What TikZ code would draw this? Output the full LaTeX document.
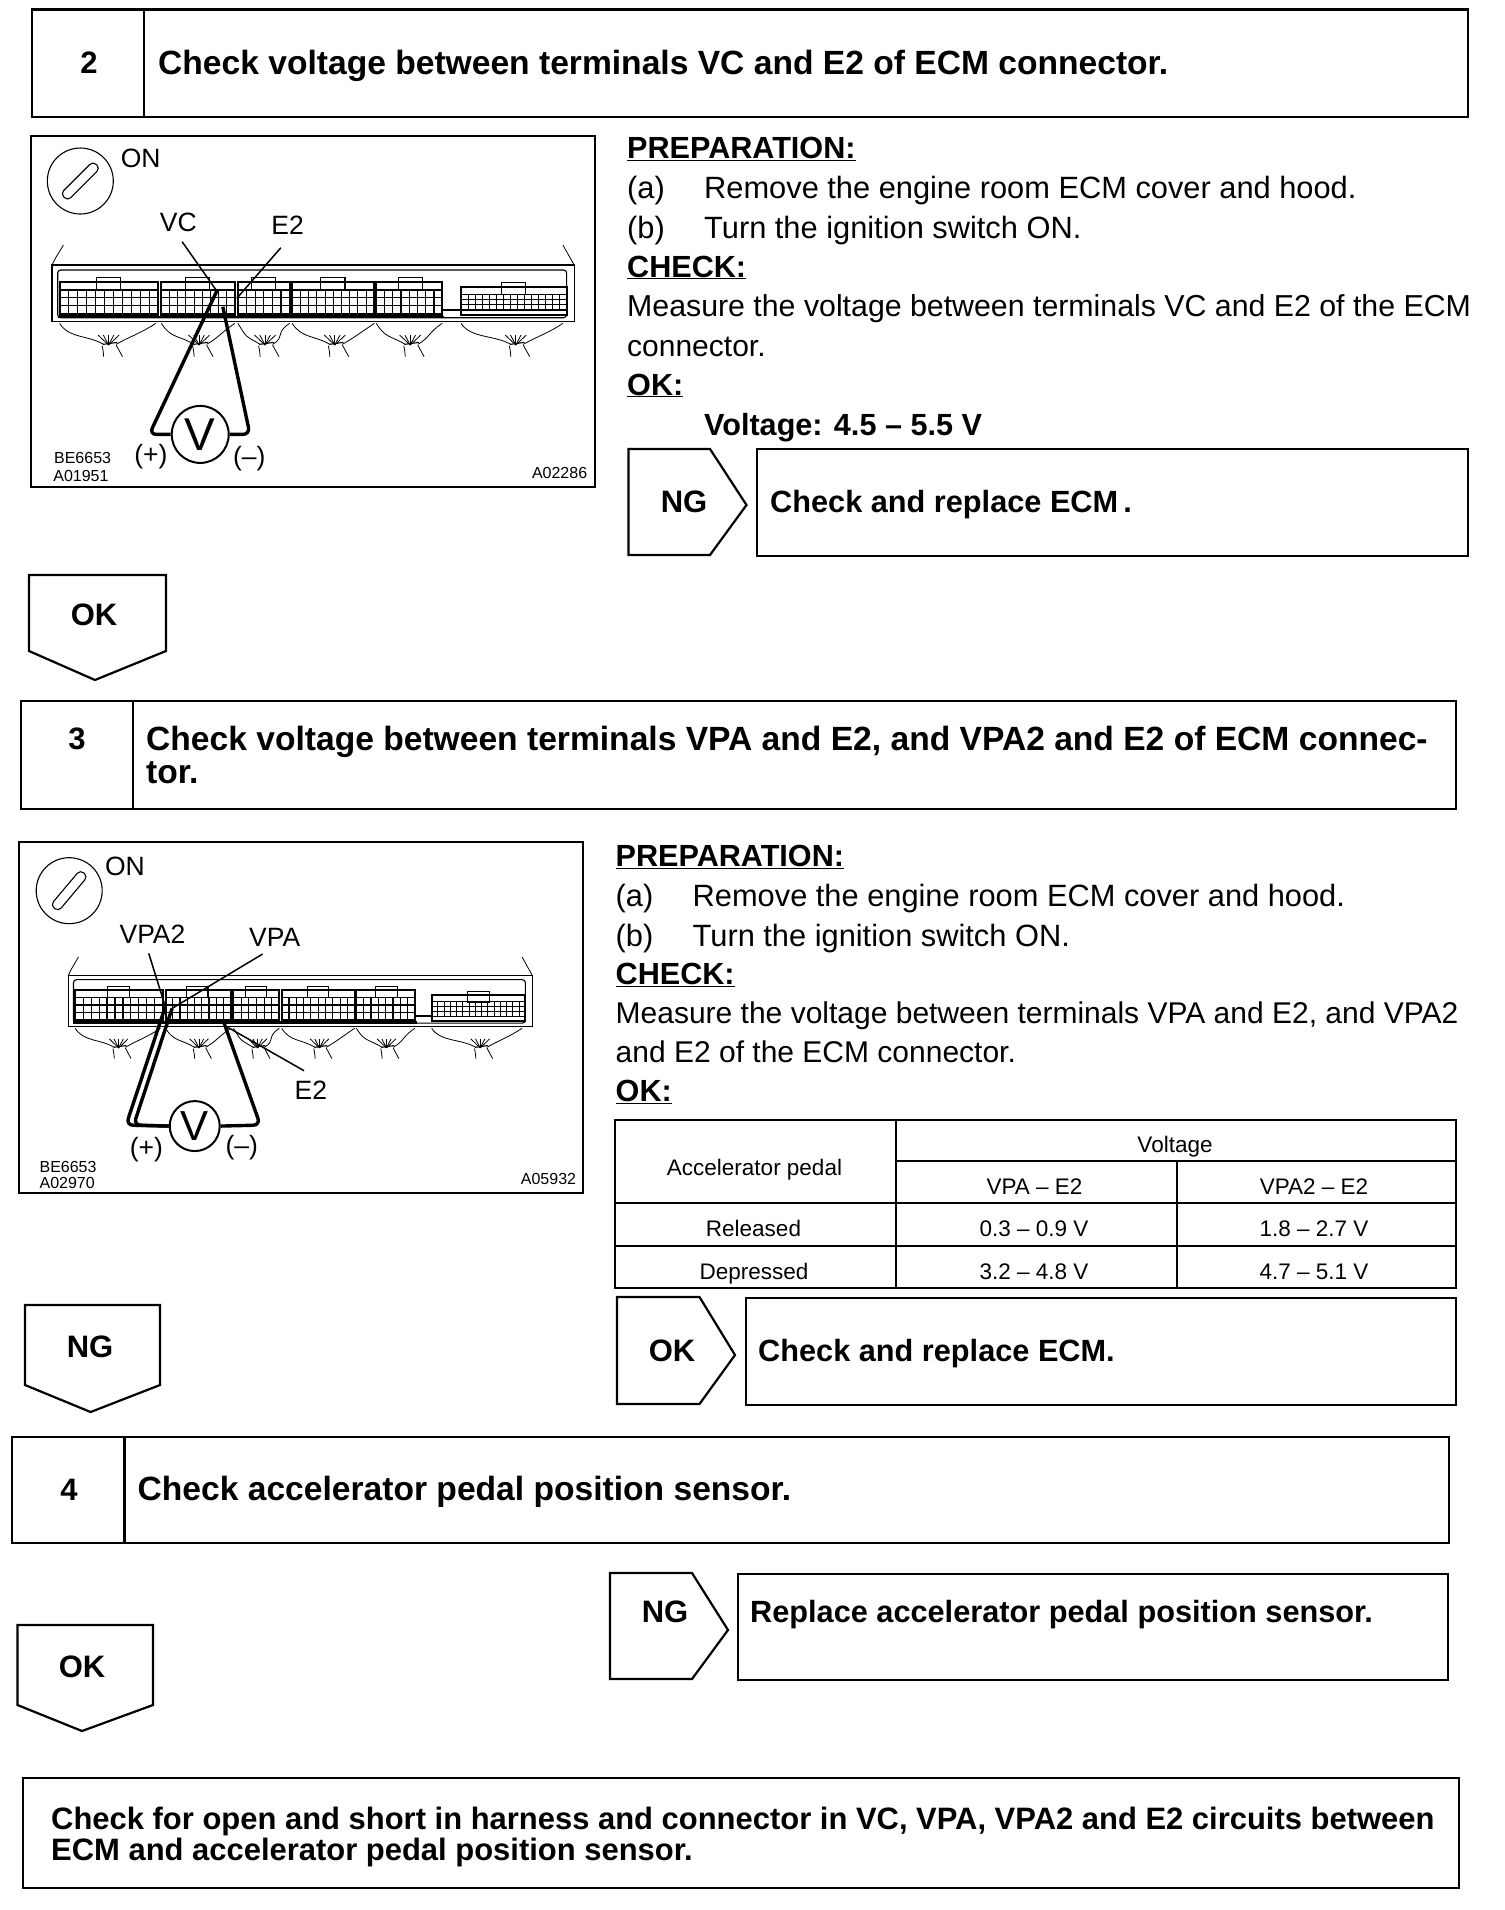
\documentclass[tikz,border=0pt]{standalone}
\usepackage{fontspec}
\setmainfont{Liberation Sans}
\tikzset{
  boxn/.style={draw=black,line width=2.4pt,anchor=north west,inner sep=0pt,fill=none},
  tagshape/.style={draw=black,line width=2.2pt,line join=miter},
  divider/.style={draw=black,line width=2.2pt},
  frameb/.style={draw=black,line width=2.2pt},
  cell/.style={draw=black,line width=1.1pt},
  hair/.style={draw=black,line width=.8pt},
  heavy/.style={draw=black,line width=2pt},
  probe/.style={draw=black,line width=3.4pt,rounded corners=7pt},
  leader/.style={draw=black,line width=1.5pt},
  head/.style={font=\fontsize{33.6}{36}\selectfont\bfseries,anchor=base west,inner sep=0pt},
  big/.style={font=\fontsize{30.7}{34}\selectfont\bfseries,anchor=base west,inner sep=0pt},
  bigf/.style={font=\fontsize{30.95}{34}\selectfont\bfseries,anchor=base west,inner sep=0pt},
  bigc/.style={font=\fontsize{31}{34}\selectfont\bfseries,anchor=base,inner sep=0pt},
  body/.style={font=\fontsize{30}{33}\selectfont,anchor=base west,inner sep=0pt},
  bodym/.style={font=\fontsize{30.3}{33}\selectfont,anchor=base west,inner sep=0pt},
  bodyw/.style={font=\fontsize{30.8}{33}\selectfont,anchor=base west,inner sep=0pt},
  sub/.style={font=\fontsize{30.6}{33}\selectfont\bfseries,anchor=base west,inner sep=0pt},
  tabt/.style={font=\fontsize{22.5}{25}\selectfont,anchor=base,inner sep=0pt},
  figl/.style={font=\fontsize{26.5}{28}\selectfont,anchor=center,inner sep=0pt},
  figc/.style={font=\fontsize{16}{18}\selectfont,anchor=base west,inner sep=0pt},
  figr/.style={font=\fontsize{16}{18}\selectfont,anchor=base east,inner sep=0pt},
  meter/.style={draw=black,line width=2pt,circle,inner sep=0pt,fill=white},
  keyc/.style={draw=black,line width=1.1pt,circle,inner sep=0pt},
  keys/.style={draw=black,line width=1.1pt,rounded corners=4.5pt,inner sep=0pt,minimum width=46pt,minimum height=10pt},
}
\newcommand{\ecmblock}[7]{%
  \draw[heavy] (#1,#3) -- (#1,-20) -- (#2,-20) -- (#2,#3) -- cycle;
  \draw[cell] (#1,#4) rectangle (#2,#5);
  \pgfmathsetmacro{\rowa}{#4+(#5-#4)/3}
  \pgfmathsetmacro{\rowb}{#4+2*(#5-#4)/3}
  \draw[cell] (#1,\rowa) -- (#2,\rowa) (#1,\rowb) -- (#2,\rowb);
  \foreach \k in {1,...,#6}{%
    \pgfmathsetmacro{\xx}{#1+(#2-#1)*\k/(#6+1)}
    \draw[cell] (\xx,#4) -- (\xx,#5);
  }
  \draw[cell] (#7-32,#3) -- (#7-32,#3-12) -- (#7+32,#3-12) -- (#7+32,#3+24) -- (#7-32,#3+24) -- cycle;
}
\newcommand{\ecmwire}[3]{%
  \draw[hair] (#1,5) .. controls (#1+25,50) and (#2-60,40) .. (#2-18,68);
  \draw[hair] (#3,5) .. controls (#3-40,35) and (#2+50,45) .. (#2+15,68);
  \foreach \a in {-28,-14,0,14,28}{%
    \draw[hair] (#2-5,70) -- (#2-5+\a,40);
  }
  \draw[cell] (#2-20,68) -- (#2+18,62);
  \draw[hair] (#2-22,72) .. controls (#2-20,85) and (#2-18,95) .. (#2-18,105);
  \draw[hair] (#2+15,70) -- (#2+32,105);
}
\newcommand{\ecmconn}{%
  \draw[cell] (0,0) rectangle (1385,-170);
  \draw[hair] (0,-170) .. controls (10,-195) and (20,-210) .. (30,-230);
  \draw[hair] (1385,-170) .. controls (1375,-190) and (1365,-210) .. (1355,-230);
  \draw[cell,rounded corners=3pt] (15,-12) rectangle (1365,-155);
  \draw[draw=black,line width=2.4pt] (15,-14) -- (1040,-14);
  \ecmblock{20}{282}{-120}{-95}{-25}{10}{150}
  \ecmblock{290}{485}{-120}{-95}{-25}{8}{385}
  \ecmblock{493}{630}{-120}{-95}{-25}{5}{560}
  \ecmblock{637}{855}{-120}{-95}{-25}{9}{745}
  \ecmblock{860}{1035}{-120}{-95}{-25}{7}{950}
  \ecmblock{1085}{1365}{-105}{-82}{-35}{14}{1225}
  \draw[heavy] (1035,-35) -- (1085,-35);
  \ecmwire{20}{155}{275}
  \ecmwire{290}{395}{485}
  \ecmwire{493}{570}{630}
  \ecmwire{637}{755}{855}
  \ecmwire{860}{955}{1035}
  \ecmwire{1085}{1235}{1355}
}
\begin{document}
\begin{tikzpicture}[x=1pt,y=-1pt]
\useasboundingbox (0,0) rectangle (1504,1910);
\fill[white] (0,0) rectangle (1504,1910);

% step 2
\node[boxn,minimum width=1436.5pt,minimum height=107.5pt] (b2) at (30.5,8.5) {};
\draw[divider] (144,8.5) -- (144,116);
\node[bigc] (n2) at (89,74) {2};
\node[head] (t2) at (158,75) {Check voltage between terminals VC and E2 of ECM connector.};

% figure 1
\draw[frameb] (31,136) rectangle (595,487);
\begin{scope}[shift={(20pt,-125pt)},x=.377pt,y=-.3334pt]
  \begin{scope}[shift={(85,590)}]
    \ecmconn
  \end{scope}
  \node[keyc,minimum size=66pt] (k1) at (160,168) {};
  \node[keys,rotate=45] (ks1) at (160,168) {};
  \node[figl] (on1) at (320,100) {ON};
  \node[figl] (vc1) at (420,293) {VC};
  \node[figl] (e21) at (710,300) {E2};
  \coordinate (lvc1) at (430,350);
  \coordinate (te1) at (575,520);
  \coordinate (le1) at (692,368);
  \coordinate (tv1) at (522,498);
  \draw[leader] (lvc1) -- (tv1);
  \draw[leader] (le1) -- (te1);
  \node[meter,minimum size=57pt] (v1) at (478,928) {\fontsize{46}{48}\selectfont V};
  \coordinate (bl1) at (343,928);
  \coordinate (br1) at (610,928);
  \coordinate (tm1) at (538,545);
  \draw[probe] (tv1) -- (bl1) -- (v1.west);
  \draw[probe] (tm1) -- (br1) -- (v1.east);
  \node[figl] (pl1) at (347,996) {(+)};
  \node[figl] (mi1) at (608,1000) {(–)};
  \node[figc] (c11) at (90,1015) {BE6653};
  \node[figc] (c12) at (88,1068) {A01951};
  \node[figr] (c13) at (1505,1060) {A02286};
\end{scope}

% right column 1
\node[sub] (p1) at (627,159) {\underline{PREPARATION:}};
\node[bodyw] (a1) at (627,199) {(a)};
\node[bodyw] (a1t) at (704,199) {Remove the engine room ECM cover and hood.};
\node[bodyw] (b1) at (627,239) {(b)};
\node[bodyw] (b1t) at (704,239) {Turn the ignition switch ON.};
\node[sub] (ch1) at (627,277) {\underline{CHECK:}};
\node[bodym] (m1) at (627,316) {Measure the voltage between terminals VC and E2 of the ECM};
\node[body] (m1b) at (627,356) {connector.};
\node[sub] (ok1) at (627,395) {\underline{OK:}};
\node[sub] (vv1) at (704,435) {Voltage: 4.5 – 5.5 V};

% NG 1
\draw[tagshape] (628.5,449) -- (710,449) -- (746.5,505) -- (710,555) -- (628.5,555) -- cycle;
\node[bigc] (ng1) at (684,512) {NG};
\node[boxn,minimum width=711pt,minimum height=107pt] (r1) at (756,448) {};
\node[big] (r1t) at (770,512) {Check and replace ECM\,.};

% OK down 1
\draw[tagshape] (29,575) -- (166,575) -- (166,651) -- (95,680) -- (29,651) -- cycle;
\node[bigc] (okd1) at (94,625) {OK};

% step 3
\node[boxn,minimum width=1435pt,minimum height=107.5pt] (b3) at (19.5,700) {};
\draw[divider] (133,700) -- (133,807.5);
\node[bigc] (n3) at (77,749) {3};
\node[head] (t3a) at (146,750) {Check voltage between terminals VPA and E2, and VPA2 and E2 of ECM connec-};
\node[head] (t3b) at (146,783) {tor.};

% figure 2
\draw[frameb] (19,842) rectangle (583,1193);
\begin{scope}[shift={(10pt,-830pt)},x=.377pt,y=-.3334pt]
  \begin{scope}[shift={(155,590)},xscale=.888,yscale=.91]
    \ecmconn
  \end{scope}
  \node[keyc,minimum size=66pt] (k2) at (157,182) {};
  \node[keys,rotate=50] (ks2) at (157,182) {};
  \node[figl] (on2) at (305,108) {ON};
  \node[figl] (vp2) at (378,312) {VPA2};
  \node[figl] (vp1) at (702,322) {VPA};
  \node[figl] (e22) at (798,782) {E2};
  \coordinate (lvp2) at (368,370);
  \coordinate (tvp2) at (412,530);
  \coordinate (lvp1) at (670,372);
  \coordinate (tvp1) at (430,535);
  \coordinate (le2) at (780,722);
  \coordinate (te2) at (575,590);
  \draw[leader] (lvp2) -- (tvp2);
  \draw[leader] (lvp1) -- (tvp1);
  \draw[leader] (le2) -- (te2);
  \node[meter,minimum size=50pt] (v2) at (490,888) {\fontsize{42}{44}\selectfont V};
  \coordinate (bl2a) at (308,885);
  \coordinate (bl2b) at (328,885);
  \coordinate (br2) at (664,885);
  \coordinate (tm2) at (565,570);
  \draw[probe] (tvp2) -- (bl2a) -- (v2.west);
  \draw[probe] (tvp1) -- (bl2b) -- (v2.west);
  \draw[probe] (tm2) -- (br2) -- (v2.east);
  \node[figl] (pl2) at (362,958) {(+)};
  \node[figl] (mi2) at (615,953) {(–)};
  \node[figc] (c21) at (78,1028) {BE6653};
  \node[figc] (c22) at (78,1075) {A02970};
  \node[figr] (c23) at (1502,1062) {A05932};
\end{scope}

% right column 2
\node[sub] (p2) at (615.5,866) {\underline{PREPARATION:}};
\node[bodyw] (a2) at (615.5,906) {(a)};
\node[bodyw] (a2t) at (692.5,906) {Remove the engine room ECM cover and hood.};
\node[bodyw] (b2l) at (615.5,946) {(b)};
\node[bodyw] (b2t) at (692.5,946) {Turn the ignition switch ON.};
\node[sub] (ch2) at (615.5,984.5) {\underline{CHECK:}};
\node[body] (m2) at (615.5,1023.5) {Measure the voltage between terminals VPA and E2, and VPA2};
\node[body] (m2b) at (615.5,1062) {and E2 of the ECM connector.};
\node[sub] (ok2) at (615.5,1101) {\underline{OK:}};

% table
\draw[frameb] (615,1120) rectangle (1456,1288);
\draw[divider] (896,1120) -- (896,1288);
\draw[divider] (1177,1161) -- (1177,1288);
\draw[divider] (896,1161) -- (1456,1161);
\draw[divider] (615,1203) -- (1456,1203);
\draw[divider] (615,1246) -- (1456,1246);
\node[tabt] (tv) at (1175,1152) {Voltage};
\node[tabt] (ta) at (754.5,1175) {Accelerator pedal};
\node[tabt] (tb) at (1034.5,1194) {VPA – E2};
\node[tabt] (tc) at (1314,1194) {VPA2 – E2};
\node[tabt] (td) at (753.5,1236) {Released};
\node[tabt] (te) at (1034,1236) {0.3 – 0.9 V};
\node[tabt] (tf) at (1314,1236) {1.8 – 2.7 V};
\node[tabt] (tg) at (754,1279) {Depressed};
\node[tabt] (th) at (1034,1279) {3.2 – 4.8 V};
\node[tabt] (ti) at (1314,1279) {4.7 – 5.1 V};

% OK right 2
\draw[tagshape] (617,1297) -- (699.5,1297) -- (735,1355) -- (699.5,1404) -- (617,1404) -- cycle;
\node[bigc] (ok2r) at (672,1361) {OK};
\node[boxn,minimum width=710pt,minimum height=107pt] (r2) at (744.5,1297) {};
\node[big] (r2t) at (758,1361) {Check and replace ECM.};

% NG down 2
\draw[tagshape] (25,1305) -- (160,1305) -- (160,1385) -- (90.6,1412) -- (25,1385) -- cycle;
\node[bigc] (ngd2) at (90,1357) {NG};

% step 4
\node[boxn,minimum width=1437pt,minimum height=106pt] (b4) at (11,1436) {};
\draw[divider] (124.5,1436) -- (124.5,1542);
\node[bigc] (n4) at (69,1500) {4};
\node[head] (t4) at (137.5,1500) {Check accelerator pedal position sensor.};

% NG right 3
\draw[tagshape] (610,1573) -- (692,1573) -- (728,1630) -- (692,1679) -- (610,1679) -- cycle;
\node[bigc] (ng3) at (665,1622) {NG};
\node[boxn,minimum width=710pt,minimum height=106pt] (r3) at (737,1573) {};
\node[big] (r3t) at (750,1622) {Replace accelerator pedal position sensor.};

% OK down 3
\draw[tagshape] (17.5,1625) -- (153,1625) -- (153,1705) -- (82,1731) -- (17.5,1705) -- cycle;
\node[bigc] (okd3) at (82,1677) {OK};

% final
\node[boxn,minimum width=1436pt,minimum height=110pt] (b5) at (22,1777) {};
\node[bigf] (f1) at (51,1829) {Check for open and short in harness and connector in VC, VPA, VPA2 and E2 circuits between};
\node[bigf] (f2) at (51,1860) {ECM and accelerator pedal position sensor.};
\end{tikzpicture}
\end{document}
